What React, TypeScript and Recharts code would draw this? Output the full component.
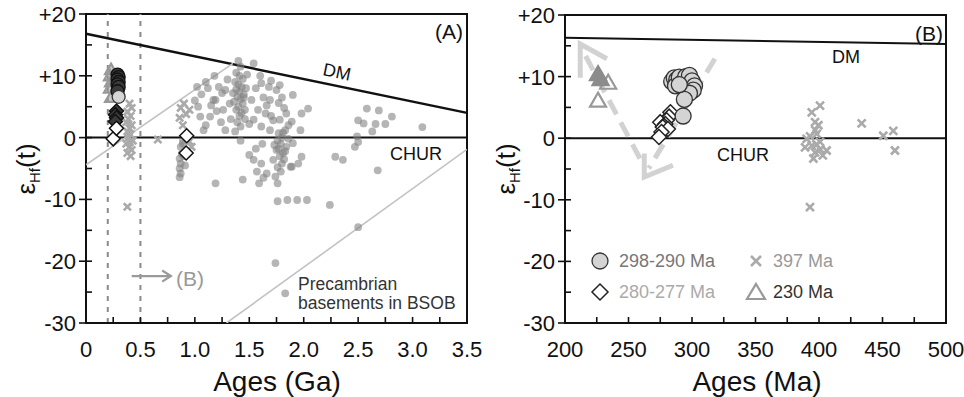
import React from 'react'
import { ScatterChart, Scatter, XAxis, YAxis, ReferenceLine, ReferenceArea } from 'recharts'

const FONT = '"Liberation Sans", Arial, sans-serif'

// ---- panel A (ages in Ga) ----
const basementDots: [number, number][] = [
  [0.89, -0.5], [0.87, -1.5], [0.88, -2.6], [0.86, -3.4], [0.87, -4.2], [0.86, -5.0], [0.87, -5.8], [0.86, -6.4], [0.9, -3.0], [0.89, -1.0], [0.91, -4.5],
  [1.0, 6.0], [1.02, 8.2], [1.03, 5.0], [1.05, 3.4], [1.08, 1.2], [1.06, 7.0], [1.1, 9.0], [1.12, 8.0], [1.14, 3.4], [1.15, 5.2], [1.17, 6.1], [1.19, 6.1], [1.2, 4.3], [1.22, 8.2], [1.25, 7.2], [1.28, 7.7], [1.26, 4.5], [1.28, 1.2], [1.3, 9.4], [1.32, 5.5], [1.18, 10.0], [1.24, 2.5], [1.1, 2.0], [1.19, -7.4],
  [1.4, 12.4], [1.42, 11.5], [1.38, 10.5], [1.41, 10.0], [1.44, 9.5], [1.37, 9.0], [1.4, 8.6], [1.43, 8.2], [1.38, 7.8], [1.41, 7.4], [1.45, 7.0], [1.39, 6.6], [1.42, 6.2], [1.36, 5.8], [1.44, 5.5], [1.4, 5.0], [1.38, 4.5], [1.43, 4.0], [1.41, 3.5], [1.46, 3.0], [1.39, 2.5], [1.42, 1.8], [1.37, 1.0], [1.45, 6.5], [1.47, 8.0], [1.35, 7.2], [1.46, 4.5], [1.33, 3.0], [1.48, 10.2], [1.5, 2.2], [1.5, -2.8], [1.44, -6.8], [1.42, -0.5],
  [1.54, 12.0], [1.52, 6.1], [1.54, 2.9], [1.56, 8.0], [1.58, 4.5], [1.61, 8.8], [1.6, 10.0], [1.63, 6.5], [1.61, 1.8], [1.65, 3.9], [1.68, 8.2], [1.66, 5.2], [1.69, 6.1], [1.7, 9.2], [1.69, 1.2], [1.72, 2.8], [1.54, -3.6], [1.57, -5.5], [1.61, -4.2], [1.59, -7.4], [1.63, -6.5], [1.66, -5.8], [1.62, -1.0], [1.56, -1.8],
  [1.75, 7.7], [1.77, 5.6], [1.78, 2.9], [1.77, 0.7], [1.8, 0.0], [1.76, -0.5], [1.79, -1.0], [1.75, -2.0], [1.81, -2.5], [1.78, -3.0], [1.72, -3.6], [1.8, -4.2], [1.76, -4.8], [1.79, -5.5], [1.74, -6.3], [1.82, -3.5], [1.84, -1.5], [1.83, 1.2], [1.84, 3.9], [1.86, 2.0], [1.82, 4.8], [1.8, 6.5], [1.78, 8.5], [1.88, -4.7], [1.86, -0.2], [1.83, -2.2], [1.76, -7.4], [1.76, -10.3], [1.85, -10.1], [1.74, -20.3], [1.83, -25.2], [1.7, 3.5], [1.73, -1.2], [1.81, 0.8], [1.77, -1.8],
  [1.9, 6.9], [2.04, 4.7], [1.98, 3.9], [1.89, 2.6], [1.97, 1.2], [1.9, -0.9], [1.98, -3.1], [1.95, -4.2], [1.89, -4.7], [1.94, -10.1], [2.03, -10.1],
  [2.24, -10.9], [2.29, -3.1], [2.36, -3.6], [2.5, -14.5], [2.58, 4.7], [2.69, 4.4], [2.81, 3.4], [2.5, 2.8], [2.55, 2.3], [2.66, 2.2], [2.75, 2.2], [2.63, 1.0], [2.49, 0.2], [2.5, -0.7], [2.47, -1.5], [2.68, -5.3], [3.09, 1.7],
]
const circlesADark: [number, number][] = [[0.29, 10.2], [0.3, 9.8], [0.29, 9.4], [0.3, 9.0], [0.29, 8.6], [0.3, 8.2], [0.29, 7.5]]
const circlesALight: [number, number][] = [[0.3, 6.6]]
const diamondsADark: [number, number][] = [[0.28, 4.3], [0.27, 3.7], [0.28, 3.2], [0.27, 2.6]]
const diamondsAWhite: [number, number][] = [[0.25, -0.2], [0.28, 1.5], [0.925, 0.3], [0.92, -2.5]]
const trianglesA: [number, number][] = [[0.23, 11.0], [0.22, 10.0], [0.23, 9.0], [0.22, 8.0], [0.23, 6.5]]
const crossesA: [number, number][] = [
  [0.4, 5.5], [0.42, 4.8], [0.38, 4.2], [0.41, 3.5], [0.39, 3.0], [0.37, 2.5], [0.42, 2.0], [0.4, 1.5], [0.38, 1.0], [0.41, 0.5], [0.39, 0.0],
  [0.43, -0.5], [0.37, -1.0], [0.4, -1.5], [0.42, -2.0], [0.38, -2.5], [0.41, -3.0], [0.39, 0.8], [0.4, -0.8], [0.38, -11.2], [0.66, -0.3],
  [0.87, 4.8], [0.9, 5.5], [0.92, 3.8], [0.86, 3.2], [0.95, 4.5], [0.97, -1.5], [0.95, -0.6], [0.89, 2.0],
]
const dmA: [number, number][] = [[0, 16.8], [3.5, 4.0]]
const crustUpper: [number, number][] = [[0, -4.4], [1.35, 12.0]]
const crustLower: [number, number][] = [[1.29, -30], [3.5, -1.9]]
const boxEdgesA = [0.2, 0.5]
const arrowToB: [number, number][] = [[0.42, -22.4], [0.78, -22.4]]
const arrowToBHead: [number, number][] = [[0.7, -21.5], [0.78, -22.4], [0.7, -23.3]]
const ticksGa = [0, 0.25, 0.5, 0.75, 1, 1.25, 1.5, 1.75, 2, 2.25, 2.5, 2.75, 3, 3.25, 3.5]

// ---- panel B (ages in Ma) ----
const circlesB: [number, number][] = [
  [284, 9.2], [286, 9.8], [288, 9.5], [287, 8.5], [290, 9.9], [292, 9.0], [295, 10.0], [298, 10.2], [300, 9.3], [302, 8.5], [301, 7.8], [298, 7.3], [294, 6.3], [293, 3.6], [290, 8.7],
]
const diamondsB: [number, number][] = [[283, 4.2], [282, 3.5], [280, 2.9], [275, 2.6], [279, 2.3], [278, 2.0], [277, 1.8], [281, 1.5], [276, 1.0], [274, 0.2]]
const trianglesBFilled: [number, number][] = [[226, 10.4], [228, 9.6]]
const trianglesBOpen: [number, number][] = [[234, 9.0], [226, 6.1]]
const crossesB: [number, number][] = [
  [400.8, 5.3], [394.3, 4.2], [396.9, 2.6], [399.5, 2.1], [398.2, 0.7], [390.3, -0.1], [400.8, -0.6], [394.3, -1.2], [389, -1.5], [406, -2.0], [396.9, -2.3], [395.6, -3.3],
  [398, -1.0], [401, -1.8], [393, 0.3], [403, -2.8], [397, 1.3], [392.9, -11.2], [433.6, 2.4], [450.6, 0.4], [458.5, 1.2], [459.8, -2.0],
]
const dmB: [number, number][] = [[200, 16.3], [500, 15.3]]
const trendUp: [number, number][] = [[259, -3.3], [213, 14.6]]
const trendUpHead: [number, number][] = [[212, 9.8], [212, 15.3], [233, 12.9]]
const trendDown: [number, number][] = [[318, 12.9], [266, -4.9]]
const trendDownHead: [number, number][] = [[262.4, -2.5], [262.4, -6.3], [285, -4.4]]
const ticksMa = [200, 225, 250, 275, 300, 325, 350, 375, 400, 425, 450, 475, 500]

const ticksEps = [-30, -25, -20, -15, -10, -5, 0, 5, 10, 15, 20]

const pts = (a: [number, number][]) => a.map(([x, y]) => ({ x, y }))

const noShape = () => <g />
const circleShape = (r: number, fill: string, stroke: string) => (p: any) => (
  <circle cx={p.cx} cy={p.cy} r={r} fill={fill} stroke={stroke} strokeWidth={1.3} />
)
const diamondShape = (h: number, fill: string, stroke: string) => (p: any) => (
  <path d={`M${p.cx},${p.cy - h}L${p.cx + h},${p.cy}L${p.cx},${p.cy + h}L${p.cx - h},${p.cy}Z`} fill={fill} stroke={stroke} strokeWidth={1.5} />
)
const triangleShape = (h: number, fill: string, stroke: string) => (p: any) => (
  <path d={`M${p.cx},${p.cy - h}L${p.cx + h},${p.cy + h * 0.75}L${p.cx - h},${p.cy + h * 0.75}Z`} fill={fill} stroke={stroke} strokeWidth={2.2} />
)
const crossShape = (h: number, color: string) => (p: any) => (
  <path d={`M${p.cx - h},${p.cy - h}L${p.cx + h},${p.cy + h}M${p.cx - h},${p.cy + h}L${p.cx + h},${p.cy - h}`} stroke={color} strokeWidth={2.6} fill="none" />
)

const XTick = (props: any) => {
  const { x, y, payload, major, fmt } = props
  const v = payload.value
  return (
    <g>
      <line x1={x} x2={x} y1={y} y2={y - 6} stroke="#111" strokeWidth={1.6} />
      {major(v) && (
        <text x={x} y={y + 34} textAnchor="middle" fontSize={22} fill="#111" fontFamily={FONT}>{fmt(v)}</text>
      )}
    </g>
  )
}

const YTick = (props: any) => {
  const { x, y, payload } = props
  const v = payload.value
  const major = v % 10 === 0
  return (
    <g>
      <line x1={major ? x - 7 : x} x2={x + 6} y1={y} y2={y} stroke="#111" strokeWidth={1.6} />
      {major && (
        <text x={x - 10} y={y} dy="0.36em" textAnchor="end" fontSize={22} fill="#111" fontFamily={FONT}>
          {v > 0 ? `+${v}` : `${v}`}
        </text>
      )}
    </g>
  )
}

const axisLine = { stroke: '#111', strokeWidth: 2 }

function PanelA() {
  return (
    <ScatterChart width={500} height={397} margin={{ top: 14, right: 33, bottom: 34, left: 30 }}>
      <XAxis type="number" dataKey="x" domain={[0, 3.5]} ticks={ticksGa} interval={0} height={40} tickSize={0} tickMargin={0}
        axisLine={axisLine} allowDataOverflow
        tick={(p: any) => <XTick {...p} major={(v: number) => Number.isInteger(v * 2)} fmt={(v: number) => (v === 0 ? '0' : v.toFixed(1))} />} />
      <YAxis type="number" dataKey="y" domain={[-30, 20]} ticks={ticksEps} interval={0} width={56} tickSize={0} tickMargin={0}
        axisLine={axisLine} allowDataOverflow tick={(p: any) => <YTick {...p} />} />
      <ReferenceArea x1={0} x2={3.5} y1={-30} y2={20} fill="none" stroke="#111" strokeWidth={2} />
      <Scatter data={pts(crustUpper)} line={{ stroke: '#c2c2c2', strokeWidth: 1.6 }} shape={noShape} isAnimationActive={false} />
      <Scatter data={pts(crustLower)} line={{ stroke: '#c2c2c2', strokeWidth: 1.6 }} shape={noShape} isAnimationActive={false} />
      {boxEdgesA.map((x) => (
        <ReferenceLine key={x} x={x} stroke="#8a8a8a" strokeWidth={2} strokeDasharray="5 6" />
      ))}
      <Scatter data={pts(arrowToB)} line={{ stroke: '#9a9a9a', strokeWidth: 2.2 }} shape={noShape} isAnimationActive={false} />
      <Scatter data={pts(arrowToBHead)} line={{ stroke: '#9a9a9a', strokeWidth: 2.2, fill: 'none' }} shape={noShape} isAnimationActive={false} />
      <Scatter data={pts(basementDots)} shape={circleShape(3.9, 'rgba(128,128,128,0.58)', 'none')} isAnimationActive={false} />
      <Scatter data={pts(crossesA)} shape={crossShape(3.6, '#aaaaaa')} isAnimationActive={false} />
      <Scatter data={pts(trianglesA)} shape={triangleShape(6, 'rgba(150,150,150,0.5)', '#999')} isAnimationActive={false} />
      <Scatter data={pts(circlesADark)} shape={circleShape(6.5, '#3a3a3a', '#111')} isAnimationActive={false} />
      <Scatter data={pts(circlesALight)} shape={circleShape(6.5, '#d6d6d6', '#333')} isAnimationActive={false} />
      <Scatter data={pts(diamondsADark)} shape={diamondShape(7, '#3a3a3a', '#111')} isAnimationActive={false} />
      <Scatter data={pts(diamondsAWhite)} shape={diamondShape(7, '#fff', '#111')} isAnimationActive={false} />
      <ReferenceLine segment={dmA.map(([x, y]) => ({ x, y }))} stroke="#111" strokeWidth={2.5} />
      <ReferenceLine y={0} stroke="#111" strokeWidth={2} />
    </ScatterChart>
  )
}

function PanelB() {
  return (
    <ScatterChart width={484} height={397} margin={{ top: 15, right: 18, bottom: 34, left: 29 }}>
      <XAxis type="number" dataKey="x" domain={[200, 500]} ticks={ticksMa} interval={0} height={40} tickSize={0} tickMargin={0}
        axisLine={axisLine} allowDataOverflow
        tick={(p: any) => <XTick {...p} major={(v: number) => v % 50 === 0} fmt={(v: number) => String(v)} />} />
      <YAxis type="number" dataKey="y" domain={[-30, 20]} ticks={ticksEps} interval={0} width={56} tickSize={0} tickMargin={0}
        axisLine={axisLine} allowDataOverflow tick={(p: any) => <YTick {...p} />} />
      <ReferenceArea x1={200} x2={500} y1={-30} y2={20} fill="none" stroke="#111" strokeWidth={2} />
      <Scatter data={pts(trendUp)} line={{ stroke: '#d2d2d2', strokeWidth: 5, strokeDasharray: '16 9' }} shape={noShape} isAnimationActive={false} />
      <Scatter data={pts(trendUpHead)} line={{ stroke: '#d2d2d2', strokeWidth: 5, fill: 'none' }} shape={noShape} isAnimationActive={false} />
      <Scatter data={pts(trendDown)} line={{ stroke: '#d2d2d2', strokeWidth: 5, strokeDasharray: '16 9' }} shape={noShape} isAnimationActive={false} />
      <Scatter data={pts(trendDownHead)} line={{ stroke: '#d2d2d2', strokeWidth: 5, fill: 'none' }} shape={noShape} isAnimationActive={false} />
      <Scatter data={pts(crossesB)} shape={crossShape(4, '#aaaaaa')} isAnimationActive={false} />
      <Scatter data={pts(trianglesBOpen)} shape={triangleShape(8, 'none', '#999')} isAnimationActive={false} />
      <Scatter data={pts(trianglesBFilled)} shape={triangleShape(8, '#8c8c8c', '#8c8c8c')} isAnimationActive={false} />
      <Scatter data={pts(diamondsB)} shape={diamondShape(7.5, '#fff', '#222')} isAnimationActive={false} />
      <Scatter data={pts(circlesB)} shape={circleShape(8, '#d4d4d4', '#333')} isAnimationActive={false} />
      <ReferenceLine segment={dmB.map(([x, y]) => ({ x, y }))} stroke="#111" strokeWidth={2} />
      <ReferenceLine y={0} stroke="#111" strokeWidth={2} />
    </ScatterChart>
  )
}

const legendItems = [
  { label: '298-290 Ma', color: '#777', col: 0, row: 0, kind: 'circle' },
  { label: '280-277 Ma', color: '#aaa', col: 0, row: 1, kind: 'diamond' },
  { label: '397 Ma', color: '#999', col: 1, row: 0, kind: 'cross' },
  { label: '230 Ma', color: '#333', col: 1, row: 1, kind: 'triangle' },
]

function Overlay() {
  const t = { fontFamily: FONT, fill: '#111' }
  return (
    <svg width={964} height={397} style={{ position: 'absolute', left: 0, top: 0, pointerEvents: 'none' }}>
      {/* panel A text */}
      <text x={463} y={39} fontSize={21} textAnchor="end" {...t}>(A)</text>
      <text x={337} y={78} fontSize={18} textAnchor="middle" transform="rotate(11.7 337 72)" {...t}>DM</text>
      <text x={390} y={160} fontSize={18} {...t}>CHUR</text>
      <text x={298} y={290} fontSize={17.5} {...t} fill="#333">Precambrian</text>
      <text x={298} y={309} fontSize={17.5} {...t} fill="#333">basements in BSOB</text>
      <text x={176} y={286} fontSize={21} {...t} fill="#999">(B)</text>
      <text transform="translate(35,169) rotate(-90)" textAnchor="middle" fontSize={26} {...t}>
        ε<tspan fontSize={15} dy={5}>Hf</tspan><tspan dy={-5}>(t)</tspan>
      </text>
      <text x={277} y={391} fontSize={28} textAnchor="middle" {...t}>Ages (Ga)</text>

      {/* panel B text */}
      <text x={943} y={41} fontSize={21} textAnchor="end" {...t}>(B)</text>
      <text x={832} y={63} fontSize={18} {...t}>DM</text>
      <text x={717} y={161} fontSize={18} {...t}>CHUR</text>
      <text transform="translate(515,169) rotate(-90)" textAnchor="middle" fontSize={26} {...t}>
        ε<tspan fontSize={15} dy={5}>Hf</tspan><tspan dy={-5}>(t)</tspan>
      </text>
      <text x={757} y={391} fontSize={28} textAnchor="middle" {...t}>Ages (Ma)</text>

      {/* legend */}
      {legendItems.map((it) => {
        const cx = it.col === 0 ? 600 : 756
        const cy = it.row === 0 ? 261 : 292
        let mark
        if (it.kind === 'circle') mark = <circle cx={cx} cy={cy} r={8} fill="#d4d4d4" stroke="#333" strokeWidth={1.3} />
        else if (it.kind === 'diamond') mark = <path d={`M${cx},${cy - 8}L${cx + 8},${cy}L${cx},${cy + 8}L${cx - 8},${cy}Z`} fill="#fff" stroke="#222" strokeWidth={1.5} />
        else if (it.kind === 'cross') mark = <path d={`M${cx - 5},${cy - 5}L${cx + 5},${cy + 5}M${cx - 5},${cy + 5}L${cx + 5},${cy - 5}`} stroke="#aaa" strokeWidth={2.6} />
        else mark = <path d={`M${cx},${cy - 8}L${cx + 9},${cy + 7}L${cx - 9},${cy + 7}Z`} fill="none" stroke="#999" strokeWidth={2.2} />
        return (
          <g key={it.label}>
            {mark}
            <text x={it.col === 0 ? 619 : 773} y={cy + 6} fontSize={18} fontFamily={FONT} fill={it.color}>{it.label}</text>
          </g>
        )
      })}
    </svg>
  )
}

export default function App() {
  return (
    <div style={{ position: 'absolute', left: 0, top: 0, width: 964, height: 397, background: '#fff' }}>
      <div style={{ position: 'absolute', left: 0, top: 0 }}>
        <PanelA />
      </div>
      <div style={{ position: 'absolute', left: 480, top: 0 }}>
        <PanelB />
      </div>
      <Overlay />
    </div>
  )
}
